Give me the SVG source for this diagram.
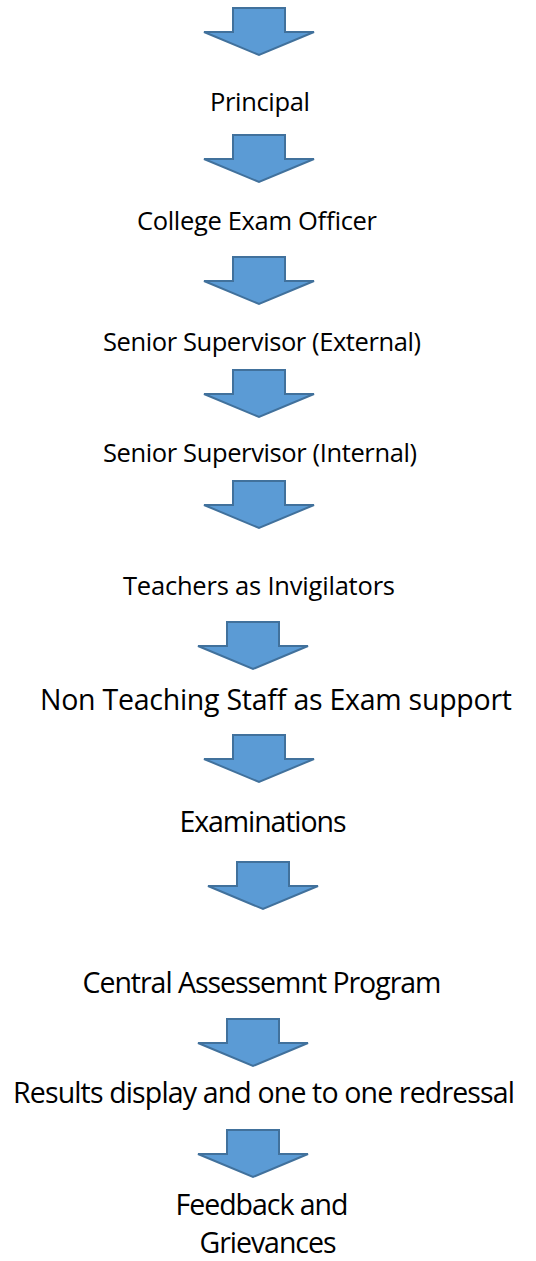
<svg xmlns="http://www.w3.org/2000/svg" xmlns:xlink="http://www.w3.org/1999/xlink" width="536" height="1261" viewBox="0 0 536 1261">
<style>
.lbl{font-family:"Open Sans","Liberation Sans",sans-serif;fill:#000;text-anchor:middle}
.s{font-size:25.5px}
.b{font-size:28.5px}
.arr{fill:#5B9BD5;stroke:#41719C;stroke-width:2;stroke-linejoin:miter}
</style>
<defs>
<path id="arrow" class="arr" d="M-26,0 L26,0 L26,24 L55,24 L0,47 L-55,24 L-26,24 Z"/>
</defs>
<rect width="536" height="1261" fill="#fff"/>
<g id="connectors">
<use xlink:href="#arrow" x="259" y="8"/>
<use xlink:href="#arrow" x="259" y="135"/>
<use xlink:href="#arrow" x="259" y="257"/>
<use xlink:href="#arrow" x="259" y="370"/>
<use xlink:href="#arrow" x="259" y="481"/>
<use xlink:href="#arrow" x="253" y="622"/>
<use xlink:href="#arrow" x="259" y="735"/>
<use xlink:href="#arrow" x="263" y="862"/>
<use xlink:href="#arrow" x="253" y="1019"/>
<use xlink:href="#arrow" x="253" y="1130"/>
</g>
<g id="principal"><text class="lbl s" x="260" y="111" textLength="100">Principal</text></g>
<g id="college-exam-officer"><text class="lbl s" x="257" y="230" textLength="240">College Exam Officer</text></g>
<g id="senior-supervisor-external"><text class="lbl s" x="262" y="351" textLength="318">Senior Supervisor (External)</text></g>
<g id="senior-supervisor-internal"><text class="lbl s" x="260" y="462" textLength="314">Senior Supervisor (Internal)</text></g>
<g id="teachers-invigilators"><text class="lbl s" x="259" y="595" textLength="272">Teachers as Invigilators</text></g>
<g id="non-teaching-staff"><text class="lbl b" x="276" y="710" textLength="472">Non Teaching Staff as Exam support</text></g>
<g id="examinations"><text class="lbl b" x="263" y="832" textLength="167">Examinations</text></g>
<g id="central-assessment"><text class="lbl b" x="262" y="993" textLength="359">Central Assessemnt Program</text></g>
<g id="results-display"><text class="lbl b" x="264" y="1103" textLength="502">Results display and one to one redressal</text></g>
<g id="feedback-grievances"><text class="lbl b" x="262" y="1215" textLength="173">Feedback and</text><text class="lbl b" x="268" y="1253" textLength="137">Grievances</text></g>
</svg>
